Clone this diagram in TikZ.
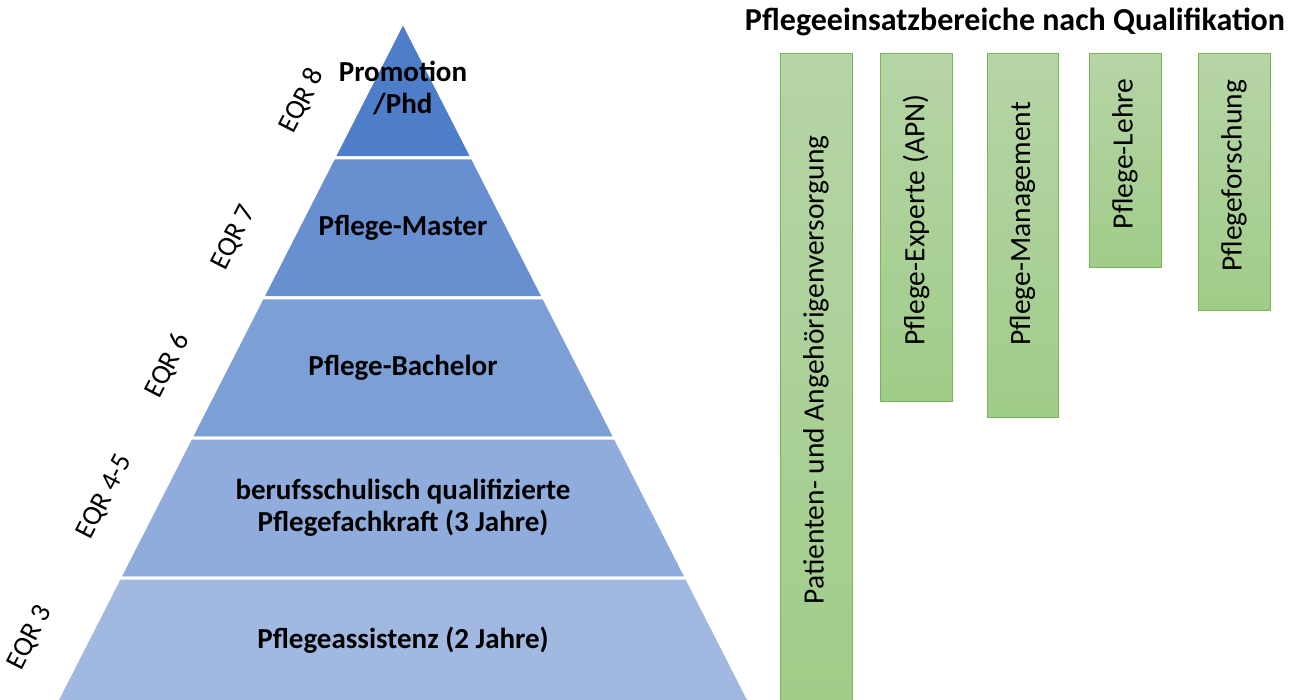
\documentclass[tikz,border=0pt]{standalone}
\usepackage{fontspec}
\setmainfont{Carlito}
\usetikzlibrary{positioning}

\definecolor{bandA}{RGB}{78,126,202}
\definecolor{bandB}{RGB}{104,143,208}
\definecolor{bandC}{RGB}{124,159,214}
\definecolor{bandD}{RGB}{143,172,220}
\definecolor{bandE}{RGB}{161,184,225}
\definecolor{barTop}{RGB}{182,213,166}
\definecolor{barBot}{RGB}{160,204,137}
\definecolor{barLine}{RGB}{122,180,84}

\begin{document}
\begin{tikzpicture}[
    x=1pt,
    y=-1pt,
    node distance=140pt,
    on grid,
    band/.style={draw=white, line width=3pt},
    level/.style={font=\fontsize{29}{32}\selectfont\bfseries, align=center},
    eqr/.style={font=\fontsize{28}{30}\selectfont, rotate=63},
    bar/.style={draw=barLine, line width=1pt, top color=barTop, bottom color=barBot},
    bartext/.style={font=\fontsize{29.5}{32}\selectfont, rotate=90},
]

    \useasboundingbox (0,0) rectangle (1298,700);
    \clip (0,0) rectangle (1298,700);

    % pyramid
    \path[band, fill=bandA] (403,22)    -- (472.4,158) -- (333.6,158) -- cycle;
    \path[band, fill=bandB] (333.6,158) -- (472.4,158) -- (543.8,298) -- (262.2,298) -- cycle;
    \path[band, fill=bandC] (262.2,298) -- (543.8,298) -- (615.2,438) -- (190.8,438) -- cycle;
    \path[band, fill=bandD] (190.8,438) -- (615.2,438) -- (686.6,578) -- (119.4,578) -- cycle;
    \path[band, fill=bandE] (119.4,578) -- (686.6,578) -- (758,718)   -- (48,718)    -- cycle;

    \node[level]                      (mas)  at (403,228) {Pflege-Master};
    \node[level, above =of mas]       (prom) {Promotion\\/Phd};
    \node[level, below =of mas]       (bac)  {Pflege-Bachelor};
    \node[level, below =of bac]       (fach) {berufsschulisch qualifizierte\\Pflegefachkraft (3 Jahre)};
    \node[level, below =132pt of fach] (ass) {Pflegeassistenz (2 Jahre)};

    \node[eqr] (eqr8)  at (302,101) {EQR 8};
    \node[eqr] (eqr7)  at (234,238) {EQR 7};
    \node[eqr] (eqr6)  at (168,366) {EQR 6};
    \node[eqr] (eqr45) at (105,497) {EQR 4-5};
    \node[eqr] (eqr3)  at (30,638)  {EQR 3};

    % einsatzbereiche
    \node[font=\fontsize{32}{36}\selectfont\bfseries] (title) at (1015,22) {Pflegeeinsatzbereiche nach Qualifikation};

    \path[bar] (780,54)  rectangle (852,720);
    \path[bar] (880,54)  rectangle (952,401);
    \path[bar] (987,54)  rectangle (1058,417);
    \path[bar] (1089,54) rectangle (1161,268);
    \path[bar] (1198,54) rectangle (1270,311);

    \node[bartext] (pav)    at (816,370)    {Patienten- und Angehörigenversorgung};
    \node[bartext] (apn)    at (916,220)    {Pflege-Experte (APN)};
    \node[bartext] (mgmt)   at (1022.5,224) {Pflege-Management};
    \node[bartext] (lehre)  at (1125,154)   {Pflege-Lehre};
    \node[bartext] (forsch) at (1234,176)   {Pflegeforschung};

\end{tikzpicture}
\end{document}
